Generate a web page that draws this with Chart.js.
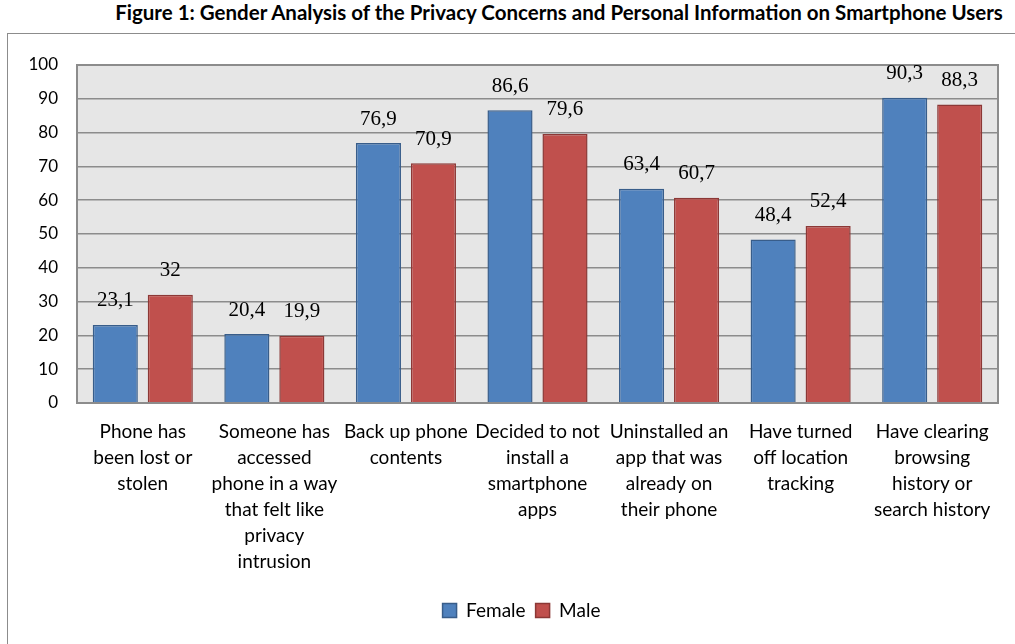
<!DOCTYPE html>
<html>
<head>
<meta charset="utf-8">
<script src="https://cdn.jsdelivr.net/npm/chart.js@4/dist/chart.umd.min.js"></script>
<style>
    html, body { margin: 0; padding: 0; background: #fff; overflow: hidden; }
    body { width: 1015px; height: 644px; position: relative; }
    #titulo {
        position: absolute; left: 59px; top: -1px; width: 1000px; height: 26px;
        text-align: center; line-height: 26px;
        font-family: Lato, sans-serif; font-weight: bold; font-size: 20.5px; color: #000;
        white-space: nowrap;
    }
    #moldura {
        position: absolute; left: 7px; top: 33px; width: 1020px; height: 700px;
        border: 1px solid #8c8c8c;
    }
    #area { position: absolute; left: 8px; top: 34px; width: 1007px; height: 610px; }
</style>
</head>
<body>
<div id="titulo">Figure 1: Gender Analysis of the Privacy Concerns and Personal Information on Smartphone Users</div>
<div id="moldura"></div>
<div id="area"><canvas id="grafico"></canvas></div>
<script>
const categorias = [
    ['Phone has', 'been lost or', 'stolen'],
    ['Someone has', 'accessed', 'phone in a way', 'that felt like', 'privacy', 'intrusion'],
    ['Back up phone', 'contents'],
    ['Decided to not', 'install a', 'smartphone', 'apps'],
    ['Uninstalled an', 'app that was', 'already on', 'their phone'],
    ['Have turned', 'off location', 'tracking'],
    ['Have clearing', 'browsing', 'history or', 'search history']
];
const valoresFemale = [23.1, 20.4, 76.9, 86.6, 63.4, 48.4, 90.3];
const valoresMale = [32, 19.9, 70.9, 79.6, 60.7, 52.4, 88.3];
const ticksY = [0, 10, 20, 30, 40, 50, 60, 70, 80, 90, 100];

// fundo cinza e moldura da área do gráfico
const fundoArea = {
    id: 'fundoArea',
    beforeDraw(chart) {
        const { ctx, chartArea: a } = chart;
        ctx.save();
        ctx.fillStyle = '#e6e6e6';
        ctx.fillRect(a.left, a.top, a.right - a.left, a.bottom - a.top);
        ctx.restore();
    },
    afterDatasetsDraw(chart) {
        const { ctx, chartArea: a } = chart;
        ctx.save();
        ctx.strokeStyle = '#8c8c8c';
        ctx.lineWidth = 2;
        ctx.strokeRect(a.left, a.top, a.right - a.left, a.bottom - a.top);
        ctx.restore();
    }
};

// legenda centrada sob a área das barras, não sob o canvas inteiro
const deslocaLegenda = {
    id: 'deslocaLegenda',
    afterLayout(chart) {
        const lg = chart.legend;
        if (!lg) return;
        lg.left += 18.5;
        lg.right += 18.5;
    }
};

// rótulos de valor acima das barras (vírgula decimal)
const rotulosValor = {
    id: 'rotulosValor',
    afterDatasetsDraw(chart) {
        const ctx = chart.ctx;
        ctx.save();
        ctx.font = '21px "Liberation Serif", serif';
        ctx.fillStyle = '#000';
        ctx.textAlign = 'center';
        ctx.textBaseline = 'middle';
        chart.data.datasets.forEach((ds, i) => {
            chart.getDatasetMeta(i).data.forEach((bar, j) => {
                ctx.fillText(String(ds.data[j]).replace('.', ','), bar.x, bar.y - 24);
            });
        });
        ctx.restore();
    }
};

new Chart(document.getElementById('grafico'), {
    type: 'bar',
    data: {
        labels: categorias,
        datasets: [{
            label: 'Female',
            data: valoresFemale,
            backgroundColor: '#4f81bd',
            borderColor: '#385d8a',
            borderWidth: 1.5,
            categoryPercentage: 0.836,
            barPercentage: 0.82
        }, {
            label: 'Male',
            data: valoresMale,
            backgroundColor: '#c0504d',
            borderColor: '#8c3836',
            borderWidth: 1.5,
            categoryPercentage: 0.836,
            barPercentage: 0.82
        }]
    },
    options: {
        responsive: true,
        maintainAspectRatio: false,
        animation: false,
        layout: { padding: { left: 0, right: 17, top: 31, bottom: 14 } },
        plugins: {
            title: { display: false },
            tooltip: { enabled: false },
            legend: {
                position: 'bottom',
                labels: {
                    boxWidth: 14,
                    boxHeight: 14,
                    padding: 10,
                    color: '#000',
                    font: { family: 'Lato, sans-serif', size: 19 }
                }
            }
        },
        scales: {
            x: {
                grid: { display: false, drawTicks: false },
                border: { display: false },
                ticks: {
                    color: '#000',
                    padding: 16,
                    maxRotation: 0,
                    autoSkip: false,
                    font: { family: 'Lato, sans-serif', size: 19, lineHeight: 26 / 19 }
                },
                afterFit(scale) { scale.height = 188; }
            },
            y: {
                min: 0,
                max: 100,
                afterBuildTicks(scale) { scale.ticks = ticksY.map(v => ({ value: v })); },
                grid: { color: '#8c8c8c', lineWidth: 1.5, drawTicks: false },
                border: { display: false },
                ticks: {
                    color: '#000',
                    padding: 19,
                    font: { family: 'Lato, sans-serif', size: 17 }
                },
                afterFit(scale) { scale.width = 69; }
            }
        }
    },
    plugins: [fundoArea, deslocaLegenda, rotulosValor]
});
</script>
</body>
</html>
